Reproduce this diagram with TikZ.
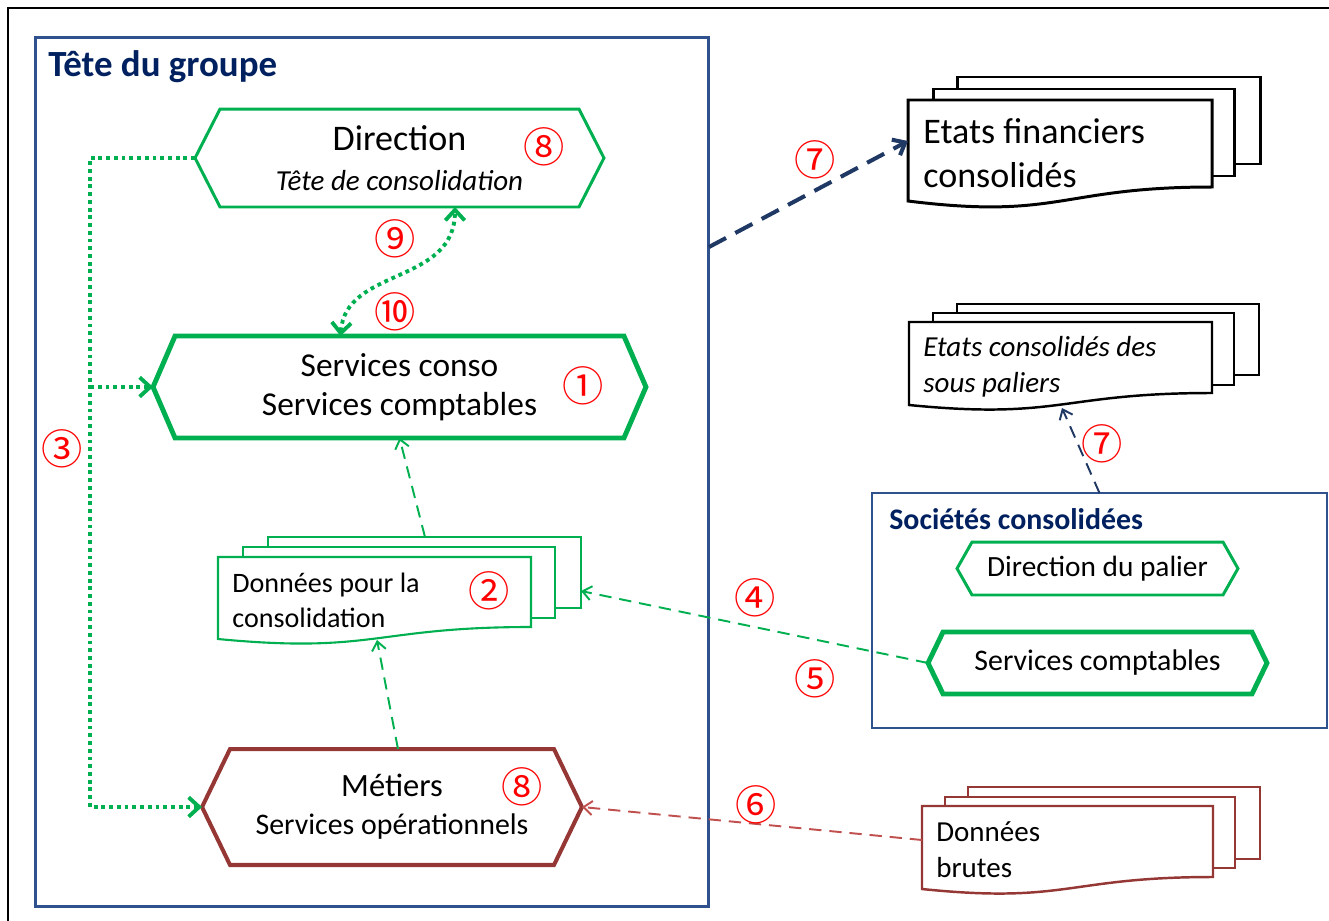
\documentclass[tikz,border=0pt]{standalone}
\usepackage{fontspec}
\setmainfont{Carlito}
\newfontfamily\numfont{Noto Sans CJK JP}
\usetikzlibrary{arrows.meta,positioning}

\definecolor{vert}{HTML}{00B050}
\definecolor{bleucadre}{HTML}{2F528F}
\definecolor{marine}{HTML}{002060}
\definecolor{brique}{HTML}{953735}
\definecolor{rouille}{HTML}{C0504D}
\definecolor{nuit}{HTML}{1F3864}

% contour hexagonal autour d'un noeud rectangulaire
\newcommand\hexagone[3]{%
  \draw[#1] ([xshift=#3]#2.north west) -- ([xshift=-#3]#2.north east) -- (#2.east)
    -- ([xshift=-#3]#2.south east) -- ([xshift=#3]#2.south west) -- (#2.west) -- cycle;}

\tikzset{
    cadre/.style={
        rectangle,
        draw=bleucadre,
        line width=1.7pt,
        outer sep=0pt
    },
    titre/.style={
        font=\bfseries\fontsize{21}{24}\selectfont,
        text=marine,
        inner sep=0pt
    },
    hexa/.style={
        rectangle,
        outer sep=0pt,
        inner sep=0pt,
        align=center
    },
    feuille/.style={
        fill=white,
        line join=miter
    },
    texteDoc/.style={
        anchor=west,
        align=left,
        inner sep=0pt
    },
    num/.style={
        text=red,
        inner sep=0pt,
        font=\numfont\fontsize{23.5}{23.5}\selectfont
    },
    pointe/.style={
        -{Straight Barb[length=6pt,width=11pt]}
    },
    pointille/.style={
        draw=vert,
        line width=2.2pt,
        dash pattern=on 2.2pt off 2.2pt
    },
    flux/.style={
        draw=vert,
        line width=1.1pt,
        dash pattern=on 7pt off 4.5pt,
        -{Straight Barb[length=5pt,width=8pt]}
    },
    fluxBrique/.style={
        flux,
        draw=rouille
    },
    fluxNuit/.style={
        draw=nuit,
        line width=2.3pt,
        dash pattern=on 11pt off 6pt,
        -{Straight Barb[length=6pt,width=10pt]}
    },
    fluxNuitFin/.style={
        flux,
        draw=nuit
    }
}

\begin{document}
\begin{tikzpicture}[x=0.02cm,y=-0.02cm]
    \useasboundingbox (0,0) rectangle (1329,920);
    \draw[line width=1.7pt] (8,925) -- (8,8) -- (1335,8);

    % Tete du groupe
    \node[cadre,minimum width=13.48cm,minimum height=17.4cm] (tete) at (372,472) {};
    \node[titre,anchor=west] (teteTitre) at (48,67) {Tête du groupe};

    \node[hexa,minimum width=8.18cm,minimum height=1.96cm,font=\fontsize{20.5}{20.5}\selectfont] (dir) at (399.5,158)
        {Direction\\[2pt]{\itshape\fontsize{16.5}{20}\selectfont Tête de consolidation}};
    \hexagone{vert,line width=1.7pt}{dir}{0.5cm}

    \node[hexa,minimum width=9.86cm,minimum height=2.04cm,font=\fontsize{19}{22}\selectfont] (scon) at (399.5,387)
        {Services conso\\Services comptables};
    \hexagone{vert,line width=2.8pt}{scon}{0.44cm}

    \node[hexa,minimum width=7.6cm,minimum height=2.32cm,font=\fontsize{18.5}{21.6}\selectfont] (met) at (392,807)
        {Métiers\\{\fontsize{17}{20}\selectfont Services opérationnels}};
    \hexagone{brique,line width=2.3pt}{met}{0.56cm}

    % donnees pour la consolidation
    \begin{scope}[draw=vert,line width=1.2pt]
        \draw[feuille] (268,537) rectangle (581,608);
        \draw[feuille] (243,547) rectangle (555,618);
        \draw[feuille] (218,557) -- (531,557) -- (531,627) .. controls (374.5,627) and (374.5,654) .. (218,639) -- cycle;
    \end{scope}
    \node[texteDoc,font=\fontsize{16}{20}\selectfont] (donnees) at (232,600) {Données pour la\\consolidation};
    \coordinate (donH) at (425,537);
    \coordinate (donB) at (377,640);
    \coordinate (donD) at (581,591);

    % etats financiers consolides
    \begin{scope}[draw=black,line width=1.7pt]
        \draw[feuille] (957,77) rectangle (1260,164);
        \draw[feuille] (933,89) rectangle (1234,176);
        \draw[feuille] (908,100) -- (1212,100) -- (1212,187) .. controls (1060,187) and (1060,220) .. (908,201) -- cycle;
    \end{scope}
    \node[texteDoc,font=\fontsize{20.5}{25}\selectfont] (etats) at (923,153) {Etats financiers\\consolidés};
    \coordinate (etatsG) at (908,141);

    % etats consolides des sous paliers
    \begin{scope}[draw=black,line width=1.4pt]
        \draw[feuille] (957,304) rectangle (1259,375);
        \draw[feuille] (933,313) rectangle (1234,385);
        \draw[feuille] (909,322) -- (1212,322) -- (1212,393) .. controls (1060.5,393) and (1060.5,420) .. (909,405) -- cycle;
    \end{scope}
    \node[texteDoc,font=\itshape\fontsize{16.5}{20.5}\selectfont] (paliers) at (923,367) {Etats consolidés des\\sous paliers};
    \coordinate (palB) at (1062,408);

    % societes consolidees
    \node[cadre,line width=1.4pt,minimum width=9.1cm,minimum height=4.7cm] (soc) at (1099.5,610.5) {};
    \node[titre,anchor=west,font=\bfseries\fontsize{17}{20}\selectfont] (socTitre) at (889,519) {Sociétés consolidées};

    \node[hexa,minimum width=5.62cm,minimum height=1.06cm,font=\fontsize{16.7}{20}\selectfont] (pal) at (1097.5,568.5)
        {Direction du palier};
    \hexagone{vert,line width=1.7pt}{pal}{0.3cm}

    \node[hexa,minimum width=6.78cm,minimum height=1.24cm,font=\fontsize{17}{20}\selectfont] (scpt) at (1097.5,663)
        {Services comptables};
    \hexagone{vert,line width=2.8pt}{scpt}{0.3cm}

    % donnees brutes
    \begin{scope}[draw=brique,line width=1.4pt]
        \draw[feuille] (968,787) rectangle (1260,859);
        \draw[feuille] (945,797) rectangle (1235,868);
        \draw[feuille] (922,806) -- (1213,806) -- (1213,877) .. controls (1067.5,877) and (1067.5,904) .. (922,889) -- cycle;
    \end{scope}
    \node[texteDoc,font=\fontsize{16.5}{20.5}\selectfont] (brutes) at (936,850) {Données\\brutes};
    \coordinate (brutG) at (922,840);

    % liens
    \coordinate (bras) at ([xshift=-2.1cm]dir.west);
    \draw[pointille,pointe] (dir.west) -- (bras) |- (met.west);
    \draw[pointille,pointe] (bras |- scon.west) -- (scon.west);
    \draw[pointille,{Straight Barb[length=6pt,width=11pt]}-{Straight Barb[length=6pt,width=11pt]}]
        ([xshift=-1.18cm]scon.north) .. controls +(5,-69) and +(0,78) .. ([xshift=1.11cm]dir.south);
    \draw[flux] (donH) -- (scon.south);
    \draw[flux] ([xshift=0.12cm]met.north) -- (donB);
    \draw[flux] (scpt.west) -- (donD);
    \draw[fluxBrique] (brutG) -- (met.east);
    \draw[fluxNuit] ([yshift=-4.2cm]tete.north east) -- (etatsG);
    \draw[fluxNuitFin] (soc.north) -- (palB);

    % numeros
    \node[num] (n8a) at (544,147) {⑧};
    \node[num] (n9) at (395,239) {⑨};
    \node[num] (n10) at (395,312) {⑩};
    \node[num] (n1) at (583,386) {①};
    \node[num] (n2) at (489,591) {②};
    \node[num] (n3) at (62,449) {③};
    \node[num] (n8b) at (522,787) {⑧};
    \node[num] (n4) at (755,598) {④};
    \node[num] (n5) at (815,679) {⑤};
    \node[num] (n6) at (756,805) {⑥};
    \node[num] (n7a) at (815,160) {⑦};
    \node[num] (n7b) at (1102,444) {⑦};
\end{tikzpicture}
\end{document}
